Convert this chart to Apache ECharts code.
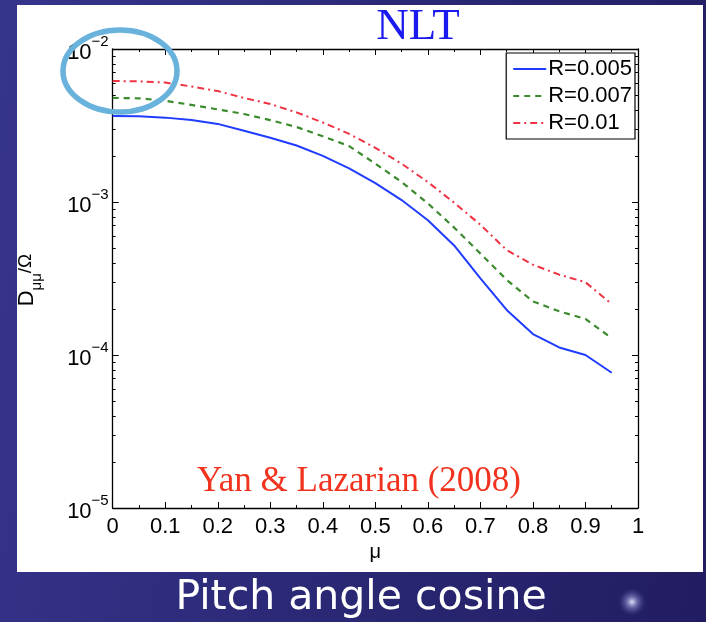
<!DOCTYPE html>
<html>
<head>
<meta charset="utf-8">
<script src="https://cdn.jsdelivr.net/npm/echarts@6/dist/echarts.min.js"></script>
<style>
  html, body { margin: 0; padding: 0; }
  body { width: 706px; height: 622px; background: linear-gradient(100deg, #36358c 0%, #2c2a78 45%, #221d62 100%); }
  #graphics { width: 706px; height: 622px; }
</style>
</head>
<body>
<div id="graphics"></div>
<script>
// pitch angle cosine samples
const mu = [0, 0.05, 0.1, 0.15, 0.2, 0.25, 0.3, 0.35, 0.4, 0.45, 0.5,
            0.55, 0.6, 0.65, 0.7, 0.75, 0.8, 0.85, 0.9, 0.95];

// D_mumu / Omega
const r005 = [3.65e-3, 3.63e-3, 3.56e-3, 3.43e-3, 3.24e-3, 2.92e-3, 2.63e-3, 2.34e-3, 2.0e-3, 1.66e-3,
              1.33e-3, 1.03e-3, 7.6e-4, 5.2e-4, 3.17e-4, 1.97e-4, 1.37e-4, 1.12e-4, 1.0e-4, 7.66e-5];
const r007 = [4.79e-3, 4.76e-3, 4.59e-3, 4.31e-3, 4.03e-3, 3.76e-3, 3.43e-3, 3.09e-3, 2.69e-3, 2.32e-3,
              1.78e-3, 1.35e-3, 9.8e-4, 6.8e-4, 4.6e-4, 3.1e-4, 2.24e-4, 1.93e-4, 1.72e-4, 1.29e-4];
const r01 = [6.18e-3, 6.14e-3, 6.03e-3, 5.69e-3, 5.31e-3, 4.79e-3, 4.37e-3, 3.85e-3, 3.31e-3, 2.79e-3,
             2.26e-3, 1.78e-3, 1.35e-3, 9.9e-4, 7.1e-4, 4.85e-4, 3.89e-4, 3.35e-4, 2.99e-4, 2.15e-4];

const seriesNames = ['R=0.005', 'R=0.007', 'R=0.01'];
const yTicks = [1e-5, 1e-4, 1e-3, 1e-2];

// minor log ticks 2..9 in every decade
const yMinor = [];
for (let d = -5; d < -2; d++) {
    for (let k = 2; k <= 9; k++) yMinor.push(k * Math.pow(10, d));
}

function pairs(ys) {
    return mu.map(function (x, i) { return [x, ys[i]]; });
}

var myChart = echarts.init(document.getElementById('graphics'));

var font = 'Liberation Sans, Arial, sans-serif';
var black = '#000';

function logAxis(pos, withLabel, ticks, len) {
    return {
        type: 'log', logBase: 10, min: 1e-5, max: 1e-2, position: pos,
        axisLine: { show: withLabel !== null, lineStyle: { color: black, width: 1.3 } },
        axisTick: { show: true, inside: true, length: len, customValues: ticks, lineStyle: { color: black } },
        axisLabel: withLabel ? {
            show: true, margin: 4, customValues: yTicks,
            formatter: function (v) {
                return '{b|10}{s|\u2212' + Math.round(-Math.log10(v)) + '}';
            },
            rich: {
                b: { fontSize: 22, fontFamily: font, color: black, lineHeight: 30, verticalAlign: 'bottom' },
                s: { fontSize: 15, fontFamily: font, color: black, lineHeight: 30, verticalAlign: 'top' }
            }
        } : { show: false },
        splitLine: { show: false }
    };
}

function linAxis(pos, withLabel) {
    return {
        type: 'value', min: 0, max: 1, interval: 0.1, position: pos,
        axisLine: { show: true, onZero: false, lineStyle: { color: black, width: 1.3 } },
        axisTick: { show: true, inside: true, length: 6, lineStyle: { color: black } },
        minorTick: { show: true, splitNumber: 2, length: 3, lineStyle: { color: black } },
        axisLabel: withLabel ? { show: true, margin: 8, fontSize: 22, fontFamily: font, color: black } : { show: false },
        splitLine: { show: false },
        name: withLabel ? '\u03bc' : '', nameLocation: 'middle', nameGap: 31,
        nameTextStyle: { fontSize: 20, fontFamily: font, color: black }
    };
}

var option = {
    animation: false,
    backgroundColor: 'transparent',
    grid: { left: 112.7, right: 68, top: 49, bottom: 114 },
    xAxis: [linAxis('bottom', true), linAxis('top', false)],
    yAxis: [
        logAxis('left', true, yTicks, 6),
        logAxis('left', null, yMinor, 3),
        logAxis('right', false, yTicks, 6),
        logAxis('right', null, yMinor, 3)
    ],
    legend: {
        orient: 'vertical', right: 71, top: 53,
        backgroundColor: '#fff', borderColor: black, borderWidth: 1.2,
        padding: [5, 3, 5, 6], itemGap: 5, itemWidth: 33, itemHeight: 14,
        itemStyle: { opacity: 0 },
        textStyle: { fontSize: 22, fontFamily: font, color: black, padding: [0, 0, 0, -3] },
        data: seriesNames
    },
    graphic: [
        { type: 'rect', z: -100, shape: { x: 17, y: 5, width: 686, height: 567 }, style: { fill: '#fff' } },
        { type: 'circle', z: -90, shape: { cx: 632, cy: 602, r: 14 },
          style: { fill: new echarts.graphic.RadialGradient(0.5, 0.5, 0.5, [
              { offset: 0, color: 'rgba(235,235,255,0.95)' },
              { offset: 0.4, color: 'rgba(170,170,230,0.5)' },
              { offset: 1, color: 'rgba(80,80,160,0)' }]) } },
        { type: 'text', style: {
            text: 'NLT', x: 418, y: 5, align: 'center', fill: '#1a1aee',
            font: '45px "Liberation Serif", "Times New Roman", serif' } },
        { type: 'text', style: {
            text: 'Yan & Lazarian (2008)', x: 359, y: 464, align: 'center', fill: '#f0321e',
            font: '35px "Liberation Serif", "Times New Roman", serif' } },
        { type: 'text', style: {
            text: 'Pitch angle cosine', x: 361, y: 578, align: 'center', fill: '#fff',
            font: '41px "DejaVu Sans", sans-serif' } },
        { type: 'text', x: 30, y: 280, rotation: Math.PI / 2, style: {
            text: '{d|D}{sub|\u03bc\u03bc}{n|/\u03a9}', align: 'center', verticalAlign: 'middle',
            rich: {
                d: { fontSize: 22, fontFamily: font, fill: black, lineHeight: 28, verticalAlign: 'top' },
                sub: { fontSize: 15, fontFamily: font, fill: black, lineHeight: 28, verticalAlign: 'bottom' },
                n: { fontSize: 19, fontFamily: font, fill: black, lineHeight: 28, verticalAlign: 'top' }
            } } },
        { type: 'ellipse', z: 100, shape: { cx: 120, cy: 71, rx: 57, ry: 41 },
          style: { fill: 'none', stroke: '#68b2dc', lineWidth: 5.5 } }
    ],
    series: [
        { name: seriesNames[0], type: 'line', data: pairs(r005), symbol: 'none',
          lineStyle: { color: '#1f3cff', width: 2 }, itemStyle: { color: '#1f3cff' } },
        { name: seriesNames[1], type: 'line', data: pairs(r007), symbol: 'none',
          lineStyle: { color: '#3b8a2e', width: 2.2, type: [6, 5] }, itemStyle: { color: '#3b8a2e' } },
        { name: seriesNames[2], type: 'line', data: pairs(r01), symbol: 'none',
          lineStyle: { color: '#ee3344', width: 2, type: [7, 4, 2, 4] }, itemStyle: { color: '#ee3344' } }
    ]
};

myChart.setOption(option);
</script>
</body>
</html>
